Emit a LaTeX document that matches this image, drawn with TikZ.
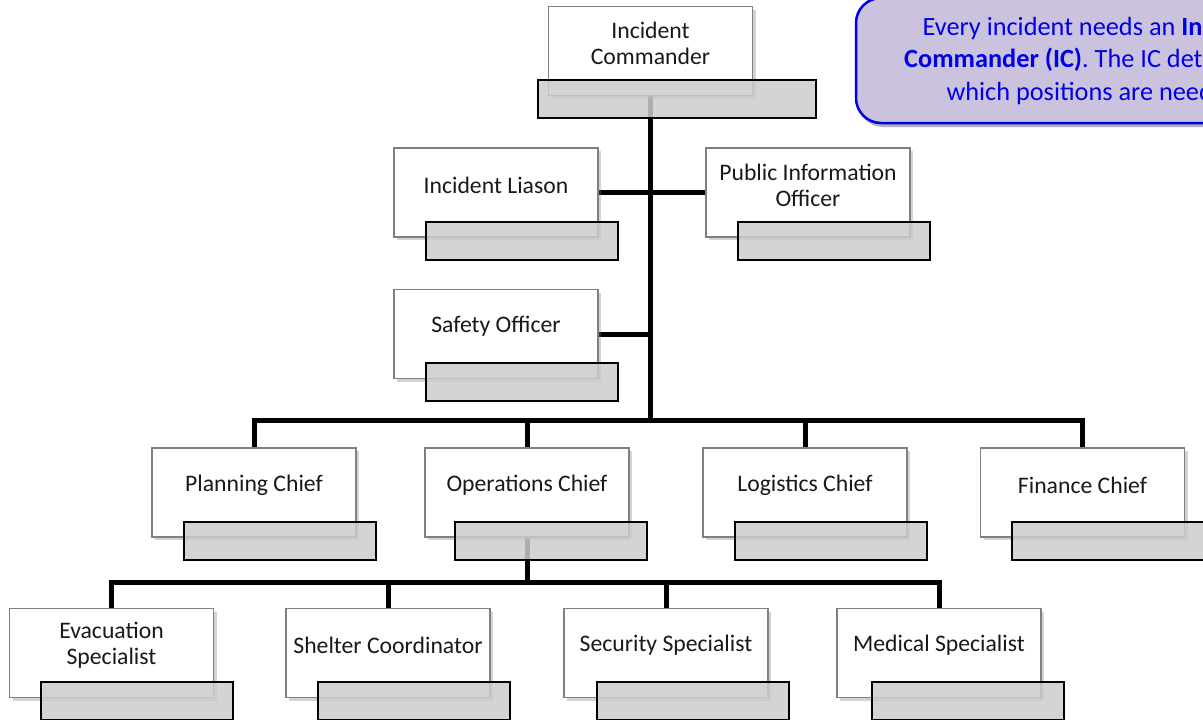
\documentclass[tikz,border=0pt]{standalone}
\usepackage{fontspec}
\setmainfont{Carlito}
\usetikzlibrary{shadows,backgrounds}
\definecolor{noteback}{HTML}{CBC3DE}
\definecolor{noteblue}{HTML}{0000E6}

\begin{document}
\begin{tikzpicture}[x=1pt, y=-1pt,
    post/.style={draw=black!50, line width=1.2pt, fill=white, minimum width=204pt,
      minimum height=89pt, inner sep=0pt,
      drop shadow={shadow xshift=3pt, shadow yshift=-3pt, opacity=0.35}},
    posttext/.style={align=center, font=\fontsize{23.7}{26}\selectfont, text=black!90},
    namebar/.style={draw=black, line width=2pt, fill=black!20, fill opacity=0.85,
      minimum height=38pt, inner sep=0pt, anchor=north west},
    link/.style={line width=5pt},
    note/.style={draw=noteblue, line width=2.5pt, fill=noteback, rounded corners=25pt,
      minimum width=481pt, minimum height=125pt, text=noteblue, align=center,
      font=\fontsize{26.3}{32.5}\selectfont,
      drop shadow={shadow xshift=2pt, shadow yshift=-4pt, fill=black!60, opacity=0.5}}]
    % frame
    \useasboundingbox (0,0) rectangle (1203,720);
    \clip (0,0) rectangle (1203,720);

    % positions: name / centre x / centre y / bar shift / bar width / title
    \foreach \nm/\cx/\cy/\gx/\gw/\txt in {
        ic/650.5/51/-11/278/{Incident\\Commander},
        lia/496/192.5/32/192/{Incident Liason},
        pio/808/192.5/32/192/{Public Information\\Officer},
        saf/496/334/32/192/{Safety Officer},
        plan/254/492.5/32/192/{Planning Chief},
        ops/527/492.5/30/192/{Operations Chief},
        log/805/492.5/32/192/{Logistics Chief},
        fin/1082.5/492.5/31/192/{Finance Chief},
        eva/111.5/653/31/192/{Evacuation\\Specialist},
        she/388/653/32/192/{Shelter Coordinator},
        sec/666/653/33/192/{Security Specialist},
        med/939/653/35/192/{Medical Specialist}} {
      \node[post] (\nm) at (\cx,\cy) {};
      \node[posttext] at ([yshift=7.5pt]\nm.center) {\txt};
      \node[namebar, minimum width=\gw pt] at ([xshift=\gx pt, yshift=17pt]\nm.south west) {};
    }

    % connectors
    \begin{scope}[on background layer]
      \coordinate (hub) at (ic.center |- 0,420);
      \coordinate (hub2) at (ops.center |- 0,582);
      \draw[link] (ic) -- (hub);
      \draw[link] (lia) -- (pio);
      \draw[link] (saf) -- (saf -| hub);
      \draw[link] (plan) |- (hub) -| (fin);
      \draw[link] (ops) |- (hub);
      \draw[link] (log) |- (hub);
      \draw[link] (ops) -- (hub2);
      \draw[link] (eva) |- (hub2) -| (med);
      \draw[link] (she) |- (hub2);
      \draw[link] (sec) |- (hub2);
    \end{scope}

    % call-out
    \node[note] (tip) at (1096.5,60.5) {Every incident needs an \textbf{Incident}\\
      \textbf{Commander (IC)}. The IC determines\\which positions are needed.};
\end{tikzpicture}
\end{document}
